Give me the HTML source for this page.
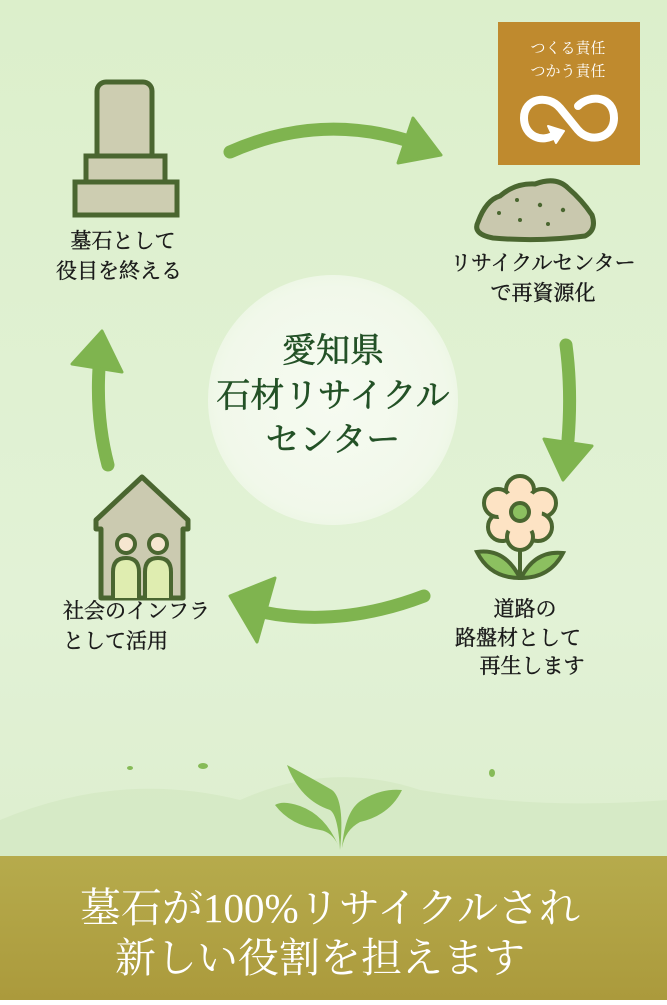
<!DOCTYPE html>
<html><head><meta charset="utf-8"><style>
html,body{margin:0;padding:0;}
body{width:667px;height:1000px;overflow:hidden;}
svg text{font-family:"Liberation Serif","Noto Serif CJK SC","Noto Sans CJK JP",serif;}
.lb{font-size:21px;fill:#1a1a1a;stroke:#1a1a1a;stroke-width:0.4px;}
</style></head><body>
<svg width="667" height="1000" viewBox="0 0 667 1000" xmlns="http://www.w3.org/2000/svg">
<defs>
<linearGradient id="bg" x1="0" y1="0" x2="0" y2="1">
<stop offset="0" stop-color="#dcefcb"/><stop offset="0.6" stop-color="#e2f2d6"/><stop offset="1" stop-color="#dbeccb"/>
</linearGradient>
<linearGradient id="ban" x1="0" y1="0" x2="0" y2="1">
<stop offset="0" stop-color="#b6ab4c"/><stop offset="1" stop-color="#ab9a3c"/>
</linearGradient>
<radialGradient id="cir" cx="0.5" cy="0.5" r="0.5">
<stop offset="0" stop-color="#f6fbf1"/><stop offset="0.9" stop-color="#f1f8ea"/><stop offset="1" stop-color="#eef7e6"/>
</radialGradient>
</defs>
<rect width="667" height="1000" fill="url(#bg)"/>
<path d="M0 820 Q120 770 240 800 Q330 760 420 790 Q540 810 667 800 L667 860 L0 860Z" fill="#d3e8c2" opacity="0.7"/>
<circle cx="333" cy="400" r="125" fill="url(#cir)"/>
<g font-size="34" fill="#235126" stroke="#235126" stroke-width="0.6" text-anchor="middle">
<text x="333" y="362">愛知県</text>
<text x="333" y="407">石材リサイクル</text>
<text x="333" y="451">センター</text>
</g>

<g stroke="#4a6630" stroke-width="5" fill="#cdcdb1">
<rect x="97" y="82" width="55" height="80" rx="9"/>
<rect x="86" y="156" width="79" height="28"/>
<rect x="75" y="182" width="102" height="33"/>
</g>
<text class="lb" x="123" y="248" text-anchor="middle">墓石として</text>
<text class="lb" x="119" y="278" text-anchor="middle">役目を終える</text>

<path d="M230 152 Q320 112 412 142" stroke="#7fb44f" stroke-width="13" fill="none" stroke-linecap="round"/>
<path d="M413 118 L441 155 L398 163Z" fill="#7fb44f" stroke="#7fb44f" stroke-width="3" stroke-linejoin="round"/>

<rect x="498" y="22" width="142" height="143" fill="#bf8a2e"/>
<text x="568" y="53" font-size="15" fill="#fff" text-anchor="middle" font-family="Liberation Sans,Noto Sans CJK JP,sans-serif">つくる責任</text>
<text x="568" y="76" font-size="15" fill="#fff" text-anchor="middle" font-family="Liberation Sans,Noto Sans CJK JP,sans-serif">つかう責任</text>
<path d="M556 134 C542 144 524 136 524 118 C524 98 548 94 560 108 L578 130 C590 144 614 138 614 118 C614 96 590 94 578 106" stroke="#fff" stroke-width="8" fill="none" stroke-linecap="round"/>
<path d="M548 126 L564 131 L556 143Z" fill="#fff" stroke="#fff" stroke-width="2" stroke-linejoin="round"/>

<path d="M478 222 Q486 200 500 196 Q515 183 535 184 Q556 176 568 188 Q582 200 592 215 Q597 230 585 236 Q540 242 493 238 Q472 234 478 222Z" fill="#c9c8ae" stroke="#4a6630" stroke-width="5"/>
<g fill="#4a6630"><circle cx="517" cy="200" r="2"/><circle cx="540" cy="205" r="2.2"/><circle cx="563" cy="210" r="2.2"/><circle cx="499" cy="213" r="2"/><circle cx="520" cy="220" r="2"/><circle cx="548" cy="224" r="2"/></g>
<text class="lb" x="543" y="270" text-anchor="middle">リサイクルセンター</text>
<text class="lb" x="543" y="300" text-anchor="middle">で再資源化</text>

<path d="M566 345 Q572 390 568 440" stroke="#7fb44f" stroke-width="13" fill="none" stroke-linecap="round"/>
<path d="M544 439 L592 446 L563 480Z" fill="#7fb44f" stroke="#7fb44f" stroke-width="3" stroke-linejoin="round"/>

<g stroke="#4a6630" stroke-width="4">
<path d="M520 540 L520 580" fill="none"/>
<path d="M520 578 Q490 578 477 552 Q505 548 520 578Z" fill="#8cc060"/>
<path d="M521 578 Q550 578 563 553 Q535 550 521 578Z" fill="#8cc060"/>
<g fill="#fde3c4">
<circle cx="520" cy="490" r="14"/><circle cx="542" cy="503" r="14"/><circle cx="538" cy="527" r="14"/><circle cx="502" cy="527" r="14"/><circle cx="498" cy="503" r="14"/><circle cx="520" cy="537" r="13"/>
<circle cx="520" cy="512" r="22" stroke="none"/>
</g>
<circle cx="520" cy="512" r="9" fill="#8cc060"/>
</g>
<text class="lb" x="525" y="616" text-anchor="middle">道路の</text>
<text class="lb" x="518" y="645" text-anchor="middle">路盤材として</text>
<text class="lb" x="532" y="673" text-anchor="middle">再生します</text>

<path d="M424 596 Q340 628 262 612" stroke="#7fb44f" stroke-width="13" fill="none" stroke-linecap="round"/>
<path d="M275 578 L230 596 L257 642Z" fill="#7fb44f" stroke="#7fb44f" stroke-width="3" stroke-linejoin="round"/>

<path d="M96 529 L96 520 L142 477 L188 520 L188 529 L183 529 L183 598 L101 598 L101 529Z" fill="#cbcab0" stroke="#4a6630" stroke-width="5" stroke-linejoin="round"/>
<g stroke="#4a6630" stroke-width="4">
<circle cx="126" cy="544" r="9" fill="#f6e6d0"/><circle cx="158" cy="544" r="9" fill="#f6e6d0"/>
<path d="M113 598 L113 572 Q113 558 126 558 Q139 558 139 572 L139 598" fill="#dfedb0"/>
<path d="M145 598 L145 572 Q145 558 158 558 Q171 558 171 572 L171 598" fill="#dfedb0"/>
</g>
<text class="lb" x="63" y="618">社会のインフラ</text>
<text class="lb" x="63" y="648">として活用</text>

<path d="M108 465 Q96 420 99 368" stroke="#7fb44f" stroke-width="13" fill="none" stroke-linecap="round"/>
<path d="M72 364 L102 331 L122 372Z" fill="#7fb44f" stroke="#7fb44f" stroke-width="3" stroke-linejoin="round"/>

<g fill="#86bb57">
<path d="M340 850 Q345 800 332 790 Q315 780 287 765 Q300 800 330 810 Q338 815 340 850Z"/>
<path d="M342 848 Q345 810 362 800 Q382 788 402 790 Q390 815 360 822 Q345 830 342 848Z"/>
<path d="M338 845 Q325 815 300 806 Q283 800 275 805 Q290 825 320 830 Q332 832 338 845Z"/>
<ellipse cx="203" cy="766" rx="5" ry="3"/><ellipse cx="130" cy="768" rx="3" ry="2"/><ellipse cx="492" cy="773" rx="3" ry="4"/>
</g>

<rect x="0" y="856" width="667" height="144" fill="url(#ban)"/>
<text x="330" y="922" font-size="41" fill="#fff" text-anchor="middle">墓石が100%リサイクルされ</text>
<text x="320" y="972" font-size="41" fill="#fff" text-anchor="middle">新しい役割を担えます</text>
</svg>
</body></html>
